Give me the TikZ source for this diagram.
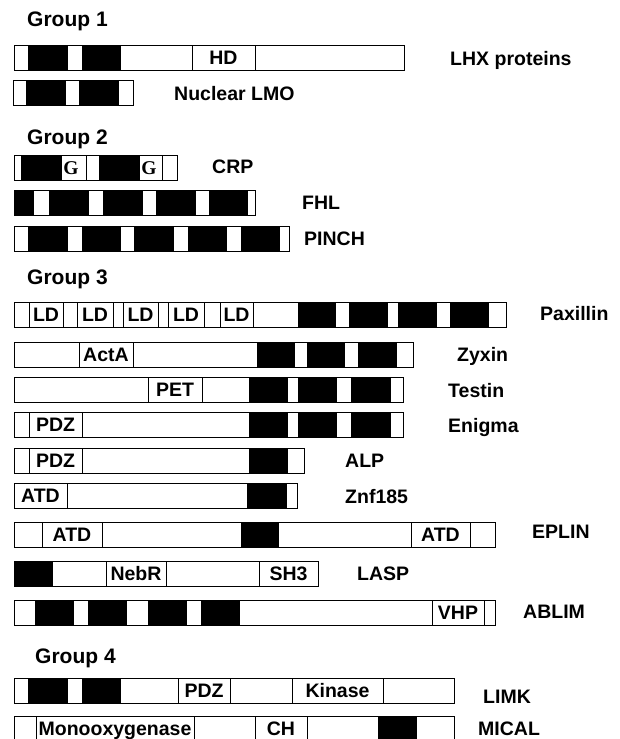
\documentclass[tikz,border=0pt]{standalone}
\usepackage{fontspec}
\setmainfont{Liberation Sans}
\newfontfamily\gfont{Liberation Serif}

\begin{document}
\begin{tikzpicture}[x=1pt,y=-1pt,
	bar/.style={line width=1pt},
	lbl/.style={anchor=base west,inner sep=0pt,font=\bfseries\fontsize{19.5}{22}\selectfont},
	grp/.style={anchor=base west,inner sep=0pt,font=\bfseries\fontsize{21}{24}\selectfont},
	dom/.style={inner sep=0pt,text height=14pt,text depth=0pt,font=\bfseries\fontsize{19.5}{22}\selectfont},
	gly/.style={inner sep=0pt,text height=13pt,text depth=0pt,font=\gfont\bfseries\fontsize{19.5}{22}\selectfont}]
	\clip (0,0) rectangle (619,739);

	% Group 1
	\node [grp] (g1) at (27,26) {Group 1};
	\draw [bar] (14,45) rectangle (404,70);
	\foreach \a/\b in {28/68,82/121} \fill (\a,45) rectangle (\b,70);
	\draw [bar] (192,45) rectangle (255,70);
	\node [dom] (lhx-hd) at (223.5,57.5) {HD};
	\node [lbl] (lhx) at (450,65) {LHX proteins};

	\draw [bar] (13,80) rectangle (133,105);
	\foreach \a/\b in {26/66,79/119} \fill (\a,80) rectangle (\b,105);
	\node [lbl] (lmo) at (174,100) {Nuclear LMO};

	% Group 2
	\node [grp] (g2) at (27,144) {Group 2};
	\draw [bar] (14,155) rectangle (177,180);
	\foreach \a/\b in {21/61,99/139} \fill (\a,155) rectangle (\b,180);
	\draw [bar] (61,155) rectangle (86,180);
	\draw [bar] (139,155) rectangle (162,180);
	\node [gly] (crp-g1) at (71,167.5) {G};
	\node [gly] (crp-g2) at (149,167.5) {G};
	\node [lbl] (crp) at (212,173) {CRP};

	\draw [bar] (14,190) rectangle (255,215);
	\foreach \a/\b in {14/34,49/89,103/143,156/196,209/248} \fill (\a,190) rectangle (\b,215);
	\node [lbl] (fhl) at (302,209) {FHL};

	\draw [bar] (14,226) rectangle (289,251);
	\foreach \a/\b in {28/68,82/121,134/174,188/227,241/280} \fill (\a,226) rectangle (\b,251);
	\node [lbl] (pinch) at (304,245) {PINCH};

	% Group 3
	\node [grp] (g3) at (27,284) {Group 3};
	\draw [bar] (14,302) rectangle (506,327);
	\foreach \a/\b in {298/336,349/388,398/437,450/489} \fill (\a,302) rectangle (\b,327);
	\foreach \a/\b [count=\i] in {29/63,77/113,123/158,168/204,220/253} {
		\draw [bar] (\a,302) rectangle (\b,327);
		\node [dom] (pax-ld\i) at ({(\a+\b)/2},314.5) {LD};
	}
	\node [lbl] (paxillin) at (540,320) {Paxillin};

	\draw [bar] (14,342) rectangle (413,367);
	\foreach \a/\b in {257/295,307/345,358/397} \fill (\a,342) rectangle (\b,367);
	\draw [bar] (79,342) rectangle (133,367);
	\node [dom] (zyx-acta) at (106,354.5) {ActA};
	\node [lbl] (zyxin) at (457,361) {Zyxin};

	\draw [bar] (14,377) rectangle (403,402);
	\foreach \a/\b in {249/288,298/337,351/391} \fill (\a,377) rectangle (\b,402);
	\draw [bar] (148,377) rectangle (202,402);
	\node [dom] (tes-pet) at (175,389.5) {PET};
	\node [lbl] (testin) at (448,397) {Testin};

	\draw [bar] (14,412) rectangle (403,437);
	\foreach \a/\b in {249/288,298/337,351/391} \fill (\a,412) rectangle (\b,437);
	\draw [bar] (29,412) rectangle (82,437);
	\node [dom] (eni-pdz) at (55.5,424.5) {PDZ};
	\node [lbl] (enigma) at (448,432) {Enigma};

	\draw [bar] (14,448) rectangle (304,473);
	\fill (249,448) rectangle (288,473);
	\draw [bar] (29,448) rectangle (82,473);
	\node [dom] (alp-pdz) at (55.5,460.5) {PDZ};
	\node [lbl] (alp) at (345,467) {ALP};

	\draw [bar] (14,483) rectangle (297,508);
	\fill (247,483) rectangle (287,508);
	\draw [bar] (14,483) rectangle (67,508);
	\node [dom] (znf-atd) at (40.5,495.5) {ATD};
	\node [lbl] (znf) at (345,503) {Znf185};

	\draw [bar] (14,522) rectangle (495,547);
	\fill (241,522) rectangle (279,547);
	\draw [bar] (42,522) rectangle (102,547);
	\draw [bar] (411,522) rectangle (470,547);
	\node [dom] (epl-atd1) at (72,534.5) {ATD};
	\node [dom] (epl-atd2) at (440.5,534.5) {ATD};
	\node [lbl] (eplin) at (532,538) {EPLIN};

	\draw [bar] (14,561) rectangle (318,586);
	\fill (14,561) rectangle (53,586);
	\draw [bar] (106,561) rectangle (166,586);
	\draw [bar] (259,561) rectangle (318,586);
	\node [dom] (lasp-nebr) at (136,573.5) {NebR};
	\node [dom] (lasp-sh3) at (288.5,573.5) {SH3};
	\node [lbl] (lasp) at (357,580) {LASP};

	\draw [bar] (14,600) rectangle (495,625);
	\foreach \a/\b in {35/74,88/127,148/187,201/240} \fill (\a,600) rectangle (\b,625);
	\draw [bar] (432,600) rectangle (484,625);
	\node [dom] (abl-vhp) at (458,612.5) {VHP};
	\node [lbl] (ablim) at (523,618) {ABLIM};

	% Group 4
	\node [grp] (g4) at (35,663) {Group 4};
	\draw [bar] (14,678) rectangle (454,703);
	\foreach \a/\b in {28/68,82/121} \fill (\a,678) rectangle (\b,703);
	\draw [bar] (178,678) rectangle (230,703);
	\draw [bar] (292,678) rectangle (383,703);
	\node [dom] (limk-pdz) at (204,690.5) {PDZ};
	\node [dom] (limk-kin) at (337.5,690.5) {Kinase};
	\node [lbl] (limk) at (483,703) {LIMK};

	\draw [bar] (14,716) rectangle (454,745);
	\fill (378,716) rectangle (417,745);
	\draw [bar] (36,716) rectangle (194,745);
	\draw [bar] (255,716) rectangle (307,745);
	\node [dom] (mic-mono) at (115,728.5) {Monooxygenase};
	\node [dom] (mic-ch) at (281,728.5) {CH};
	\node [lbl] (mical) at (478,735) {MICAL};
\end{tikzpicture}
\end{document}
